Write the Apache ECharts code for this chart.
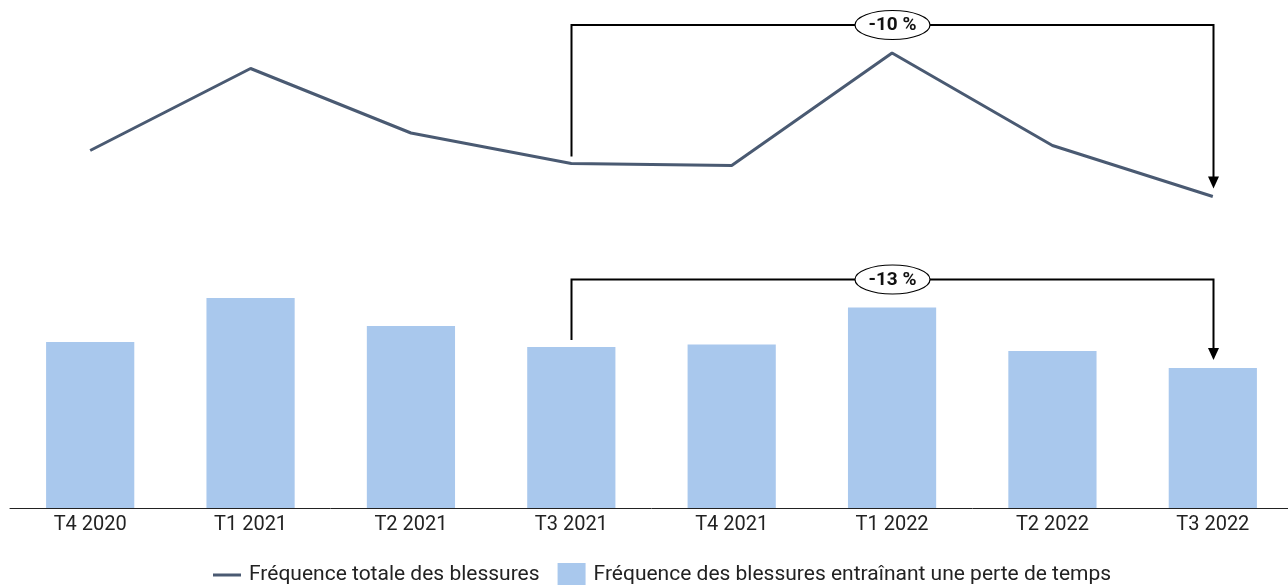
<!DOCTYPE html>
<html>
<head>
<meta charset="utf-8">
<script src="https://cdn.jsdelivr.net/npm/echarts@6/dist/echarts.min.js"></script>
<style>
html,body{margin:0;padding:0;background:#fff;overflow:hidden;}
#c{width:1293px;height:585px;}
</style>
</head>
<body>
<div id="c"></div>
<script>
var categories = ['T4 2020','T1 2021','T2 2021','T3 2021','T4 2021','T1 2022','T2 2022','T3 2022'];
var totalFreq = [7.15, 8.79, 7.50, 6.89, 6.85, 9.10, 7.25, 6.23];
var lostTimeFreq = [3.32, 4.20, 3.64, 3.22, 3.27, 4.01, 3.14, 2.80];
var seriesNames = ['Fréquence totale des blessures', 'Fréquence des blessures entraînant une perte de temps'];
var changeLabels = ['-10 %', '-13 %'];
var changeFrom = 3, changeTo = 7;

var FONT = 'Roboto, "Noto Sans", sans-serif';
var chart = echarts.init(document.getElementById('c'), null, {renderer: 'canvas'});
chart.setOption({
  animation: false,
  backgroundColor: '#ffffff',
  grid: {left: 10, right: 0, top: 8, bottom: 77, containLabel: false},
  legend: {
    left: 208, top: 558,
    itemWidth: 28, itemHeight: 24, itemGap: 18,
    symbolKeepAspect: true,
    textStyle: {fontFamily: FONT, fontSize: 21, color: '#222', padding: [0, 0, 0, 3]},
    data: [
      {name: seriesNames[0], icon: 'path://M0,0 L28,0 L28,3 L0,3 Z', itemStyle: {color: '#4a5a72'}},
      {name: seriesNames[1], icon: 'rect'}
    ]
  },
  xAxis: {
    type: 'category', data: categories, boundaryGap: true,
    axisLine: {lineStyle: {color: '#222', width: 1}},
    axisTick: {show: false},
    axisLabel: {fontFamily: FONT, fontSize: 20, color: '#222', margin: 7}
  },
  yAxis: {type: 'value', min: 0, max: 10, show: false, splitLine: {show: false}},
  series: [
    {name: seriesNames[0], type: 'line', data: totalFreq, symbol: 'none',
     lineStyle: {color: '#4a5a72', width: 3}, itemStyle: {color: '#4a5a72'}, z: 3},
    {name: seriesNames[1], type: 'bar', data: lostTimeFreq, barWidth: '55%',
     itemStyle: {color: '#a9c8ed'}, z: 2}
  ]
});

function bracket(values, label) {
  var maxV = -Infinity;
  for (var i = changeFrom; i <= changeTo; i++) maxV = Math.max(maxV, values[i]);
  var pA = chart.convertToPixel({gridIndex: 0}, [changeFrom, values[changeFrom]]);
  var pB = chart.convertToPixel({gridIndex: 0}, [changeTo, values[changeTo]]);
  var pTop = chart.convertToPixel({gridIndex: 0}, [changeFrom, maxV]);
  var yTop = pTop[1] - 28;
  var x1 = Math.round(pA[0]) + 0.5, x2 = Math.round(pB[0]) + 0.5;
  var tipY = pB[1] - 8;
  var xm = (x1 + x2) / 2;
  var els = [];
  els.push({type: 'polyline', shape: {points: [[x1, pA[1] - 7], [x1, yTop], [x2, yTop], [x2, tipY - 11]]},
            style: {stroke: '#000', lineWidth: 2, fill: null}, z: 10});
  els.push({type: 'polygon', shape: {points: [[x2 - 5.5, tipY - 12], [x2 + 5.5, tipY - 12], [x2, tipY]]},
            style: {fill: '#000'}, z: 10});
  els.push({type: 'ellipse', shape: {cx: xm, cy: yTop, rx: 37.5, ry: 14.5},
            style: {fill: '#fff', stroke: '#000', lineWidth: 1.2}, z: 11});
  els.push({type: 'text', x: xm, y: yTop + 0.5,
            style: {text: label, fontFamily: FONT, fontSize: 19, fontWeight: 'bold', fill: '#111',
                    align: 'center', verticalAlign: 'middle'}, z: 12});
  return els;
}
var g = bracket(totalFreq, changeLabels[0]).concat(bracket(lostTimeFreq, changeLabels[1]));
chart.setOption({graphic: {elements: g}});
</script>
</body>
</html>
